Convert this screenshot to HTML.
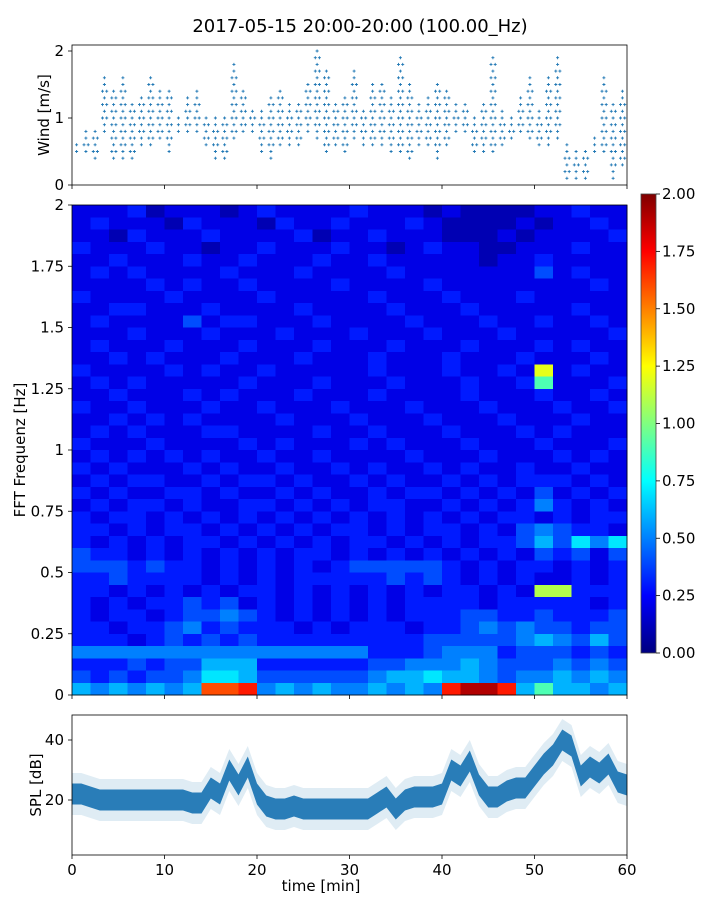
<!DOCTYPE html>
<html><head><meta charset="utf-8"><style>
html,body{margin:0;padding:0;background:#fff;}
svg{display:block;font-family:"DejaVu Sans","Liberation Sans",sans-serif;}
</style></head><body>
<svg id="fig" width="720" height="900" viewBox="0 0 720 900" xmlns="http://www.w3.org/2000/svg">
<text x="360" y="32" text-anchor="middle" font-size="18" fill="#000">2017-05-15 20:00-20:00 (100.00_Hz)</text>
<g id="wind"></g>
<g id="spec"></g>
<g id="cbar"></g>
<g id="spl"></g>
</svg>
<script>
// ---- data ----
const windMinutes = [0,1,2,3,4,5,6,7,8,9,10,11,12,13,14,15,16,17,18,19,20,21,22,23,24,25,26,27,28,29,30,31,32,33,34,35,36,37,38,39,40,41,42,43,44,45,46,47,48,49,50,51,52,53,54,55,56,57,58,59];
const windLo = [0.5,0.5,0.4,0.8,0.4,0.4,0.4,0.6,0.6,0.7,0.5,0.8,0.8,0.8,0.6,0.4,0.4,0.7,0.8,0.8,0.5,0.4,0.6,0.6,0.6,0.8,0.7,0.5,0.6,0.5,0.7,0.6,0.6,0.6,0.5,0.5,0.4,0.6,0.6,0.4,0.6,0.8,0.8,0.5,0.5,0.5,0.6,0.7,0.8,0.7,0.6,0.6,0.7,0.1,0.1,0.1,0.5,0.5,0.1,0.3];
const windHi = [0.6,0.8,0.8,1.6,1.4,1.6,1.2,1.3,1.6,1.4,1.4,1.0,1.3,1.4,1.0,1.0,1.0,1.8,1.4,1.1,1.1,1.3,1.4,1.2,1.2,1.5,2.0,1.7,1.2,1.3,1.7,1.1,1.5,1.5,1.3,1.9,1.5,1.2,1.3,1.5,1.4,1.2,1.2,1.0,1.2,1.9,1.1,1.0,1.3,1.6,1.1,1.6,1.9,0.6,0.5,0.5,0.7,1.6,1.2,1.4];
const windTicks = [0,1,2];
const timeTicks = [0,10,20,30,40,50,60];
const freqTicks = [0,0.25,0.5,0.75,1,1.25,1.5,1.75,2];
const freqTickLabels = ["0","0.25","0.5","0.75","1","1.25","1.5","1.75","2"];
const cbarTicks = [0,0.25,0.5,0.75,1,1.25,1.5,1.75,2];
const cbarTickLabels = ["0.00","0.25","0.50","0.75","1.00","1.25","1.50","1.75","2.00"];
// spectrogram: rows from 2.0 Hz (top) down to 0 Hz, 30 columns of 2 min; char index * 0.1 = amplitude
const specAlphabet = "0123456789abcdefghijk";
const specRows = [
"222312221232222322212111122322",
"232221322213223222321111212232",
"221322232222312232221112122223",
"322232212232223221232211222322",
"223222322322232232222212232222",
"232322223222322223222222242322",
"222232322322223222232222222232",
"322223222232222232223222322222",
"223322232222322223222322222322",
"232222423322232222322232232232",
"222322232223222322232223222223",
"232223222322232223222322232322",
"223232223222322232223222322232",
"3222232322322222322232232c2322",
"232322222322232223222322392223",
"223222323222322232222322232232",
"322322232232223222322232223223",
"223232322223222322232223222322",
"232322233222232232223222323222",
"322232222323222323222322232223",
"232323232232232222322232223232",
"323222323223223232232322322322",
"232332232332322323223232333232",
"323223323223232232332323242323",
"232332322332323233223232353232",
"323323232323232323232323323233",
"332323323232323323233232454332",
"323232332323232332323233464757",
"433232323232332323232323243424",
"444343323232323444443232332323",
"334333323232333334343232322323",
"3323232323323232323233232bb333",
"323233434232323232333323333323",
"323323445432323232333443343334",
"332334534333232333233454544344",
"333234343433333333344444565464",
"555555555555555533345553444343",
"333434466633333344555654445454",
"434344577644444456676654556565",
"6565656ggh5656556565hjjh696656"
];
const splMean = [22,22,21,20,20,20,20,20,20,20,20,20,20,19,19,24,22,30,25,31,22,18,17,17,18,17,17,17,17,17,17,17,17,19,21,17,20,21,21,21,22,30,28,33,25,21,21,23,24,24,28,32,35,40,38,28,31,29,32,26,25];
const splTicks = [20,40];

// ---- scales ----
const NS="http://www.w3.org/2000/svg";
const X0=72, X1=627;
const tx = m => X0 + m/60*(X1-X0);
const wy = v => 185 - v*67;
const sy = f => 695 - f*245;
const py = d => 860 - d*3;
function mk(tag, attrs, parent){const e=document.createElementNS(NS,tag);for(const k in attrs)e.setAttribute(k,attrs[k]);parent.appendChild(e);return e;}
function jet(v){
  const r=Math.min(Math.max(Math.min(4*v-1.5,-4*v+4.5),0),1);
  const g=Math.min(Math.max(Math.min(4*v-0.5,-4*v+3.5),0),1);
  const b=Math.min(Math.max(Math.min(4*v+0.5,-4*v+2.5),0),1);
  return `rgb(${Math.round(r*255)},${Math.round(g*255)},${Math.round(b*255)})`;
}

// ---- wind panel ----
const gw=document.getElementById('wind');
let d="";
windMinutes.forEach((m,i)=>{
  const lo=Math.round(windLo[i]*10), hi=Math.round(windHi[i]*10);
  for(let L=lo; L<=hi; L++){
    const v=L/10, y=wy(v);
    const xs=(L===lo||L===hi)?[m+0.5]:((L+m)%2?[m+0.3,m+0.75]:[m+0.5]);
    xs.forEach(xm=>{const x=tx(xm);d+=`M${(x-1.5).toFixed(1)} ${y.toFixed(1)}h3M${x.toFixed(1)} ${(y-1.5).toFixed(1)}v3`;});
  }
});
const wp=mk('path',{d:d,stroke:'#1f77b4','stroke-width':0.9,fill:'none'},gw);


const wframe=mk('rect',{x:X0,y:45,width:X1-X0,height:140,fill:'none',stroke:'#000','stroke-width':0.8},gw);


windTicks.forEach(v=>{
  mk('line',{x1:X0-4,x2:X0,y1:wy(v),y2:wy(v),stroke:'#000','stroke-width':0.8},gw);
  const t=mk('text',{x:X0-8,y:wy(v)+5,'text-anchor':'end','font-size':15},gw);t.textContent=v;
  
  
});
timeTicks.forEach(m=>{mk('line',{x1:tx(m),x2:tx(m),y1:185,y2:189,stroke:'#000','stroke-width':0.8},gw);});
const wl=mk('text',{x:0,y:0,'text-anchor':'middle','font-size':15,transform:'translate(49,115) rotate(-90)'},gw);wl.textContent='Wind [m/s]';



// ---- spectrogram ----
const gs=document.getElementById('spec');
const nR=specRows.length, nC=30, rowH=2/nR;
specRows.forEach((row,r)=>{
  const fTop=2-r*rowH, fBot=fTop-rowH;
  for(let c=0;c<nC;c++){
    const val=specAlphabet.indexOf(row[c])*0.1;
    const cell=mk('rect',{x:tx(c*2).toFixed(2),y:sy(fTop).toFixed(2),width:(tx(c*2+2)-tx(c*2)+0.4).toFixed(2),height:(sy(fBot)-sy(fTop)+0.4).toFixed(2),fill:jet(Math.min(val/2,1)),'shape-rendering':'crispEdges'},gs);
    
    
  }
});
const sframe=mk('rect',{x:X0,y:205,width:X1-X0,height:490,fill:'none',stroke:'#000','stroke-width':0.8},gs);


freqTicks.forEach((f,i)=>{
  mk('line',{x1:X0-4,x2:X0,y1:sy(f),y2:sy(f),stroke:'#000','stroke-width':0.8},gs);
  const t=mk('text',{x:X0-8,y:sy(f)+5,'text-anchor':'end','font-size':15},gs);t.textContent=freqTickLabels[i];
  
  
});
timeTicks.forEach(m=>{mk('line',{x1:tx(m),x2:tx(m),y1:695,y2:699,stroke:'#000','stroke-width':0.8},gs);});
const sl=mk('text',{x:0,y:0,'text-anchor':'middle','font-size':15,transform:'translate(25,450) rotate(-90)'},gs);sl.textContent='FFT Frequenz [Hz]';



// ---- colorbar ----
const gc=document.getElementById('cbar');
const defs=mk('defs',{},gc);
const lg=mk('linearGradient',{id:'jetg',x1:0,y1:1,x2:0,y2:0},defs);
for(let i=0;i<=16;i++){mk('stop',{offset:i/16,'stop-color':jet(i/16)},lg);}
const cy=v=>653-v/2*(653-194);
const cr=mk('rect',{x:641,y:194,width:15,height:459,fill:'url(#jetg)',stroke:'#444','stroke-width':0.8},gc);


cbarTicks.forEach((v,i)=>{
  mk('line',{x1:656,x2:660,y1:cy(v),y2:cy(v),stroke:'#000','stroke-width':0.8},gc);
  const t=mk('text',{x:662,y:cy(v)+5,'font-size':15},gc);t.textContent=cbarTickLabels[i];
  
  
});

// ---- SPL panel ----
const gp=document.getElementById('spl');
function band(w){let top=[],bot=[];splMean.forEach((v,i)=>{top.push(`${tx(i).toFixed(1)},${py(v+w).toFixed(1)}`);bot.unshift(`${tx(i).toFixed(1)},${py(v-w).toFixed(1)}`);});return top.concat(bot).join(' ');}
const b1=mk('polygon',{points:band(7),fill:'#1f77b4','fill-opacity':0.14},gp);


const b2=mk('polygon',{points:band(3.5),fill:'#1f77b4','fill-opacity':0.95},gp);


const pframe=mk('rect',{x:X0,y:715,width:X1-X0,height:140,fill:'none',stroke:'#000','stroke-width':0.8},gp);


splTicks.forEach(v=>{
  mk('line',{x1:X0-4,x2:X0,y1:py(v),y2:py(v),stroke:'#000','stroke-width':0.8},gp);
  const t=mk('text',{x:X0-8,y:py(v)+5,'text-anchor':'end','font-size':15},gp);t.textContent=v;
  
  
});
timeTicks.forEach(m=>{
  mk('line',{x1:tx(m),x2:tx(m),y1:855,y2:859,stroke:'#000','stroke-width':0.8},gp);
  const t=mk('text',{x:tx(m),y:875,'text-anchor':'middle','font-size':15},gp);t.textContent=m;
  
  
});
const pl=mk('text',{x:0,y:0,'text-anchor':'middle','font-size':15,transform:'translate(41,785) rotate(-90)'},gp);pl.textContent='SPL [dB]';


const xl=mk('text',{x:321,y:891,'text-anchor':'middle','font-size':15},gp);xl.textContent='time [min]';


</script>
</body></html>
